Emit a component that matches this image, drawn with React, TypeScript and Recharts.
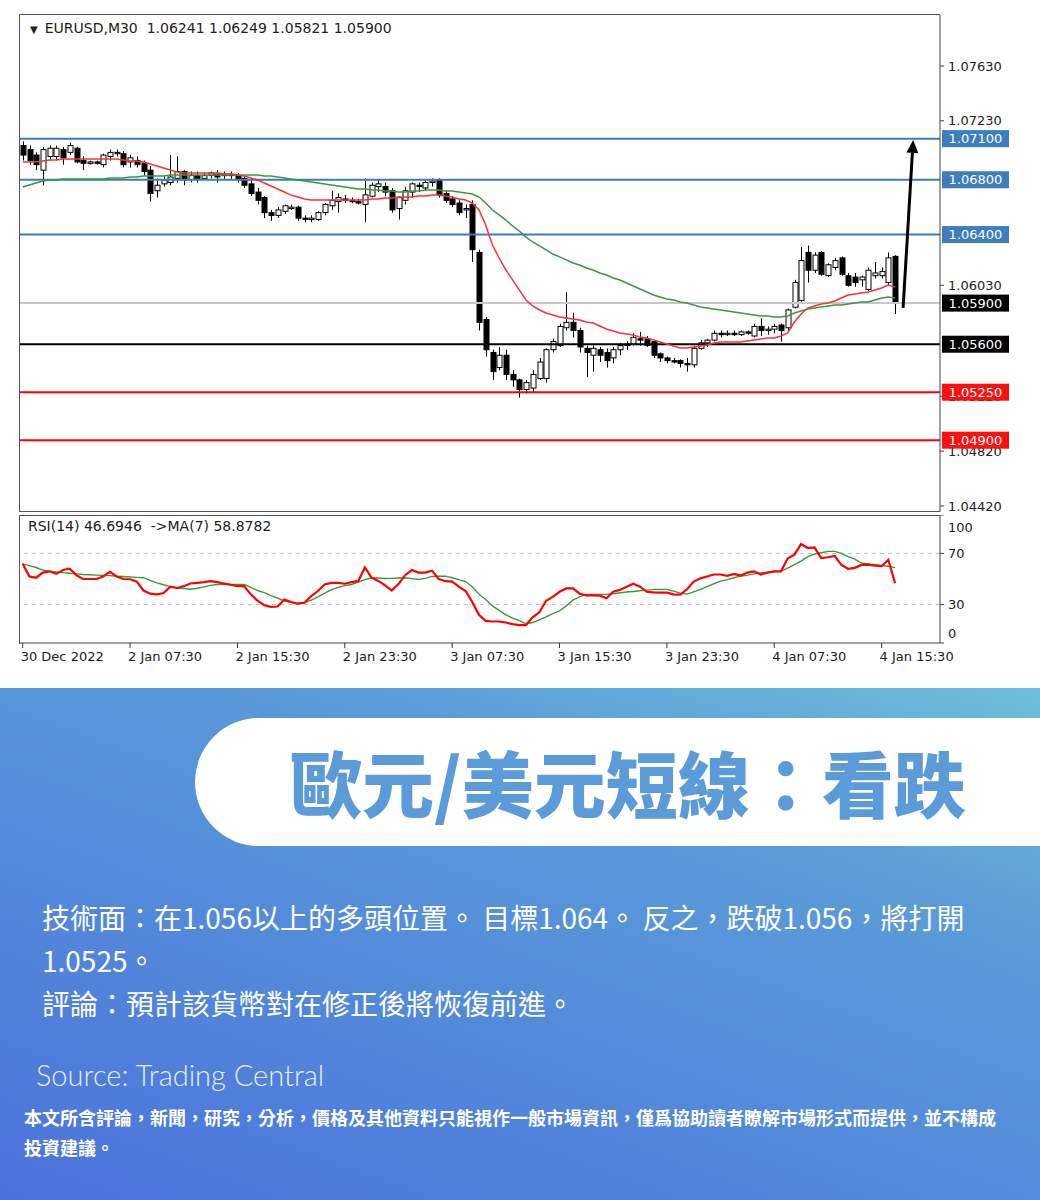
import React from 'react';
import { ComposedChart, Bar, Line, XAxis, YAxis, ReferenceLine } from 'recharts';

// EURUSD M30 candles
const opens = [
  1.0705, 1.0702, 1.0698, 1.0687, 1.0697, 1.0697, 1.0702, 1.0700, 1.0703, 1.0694,
  1.0692, 1.0693, 1.0691, 1.0697, 1.0700, 1.0699, 1.0693, 1.0694, 1.0692, 1.0687,
  1.0672, 1.0677, 1.0678, 1.0681, 1.0686, 1.0680, 1.0683, 1.0681, 1.0683, 1.0684,
  1.0683, 1.0684, 1.0683, 1.0681, 1.0677, 1.0671, 1.0667, 1.0656, 1.0654, 1.0657,
  1.0659, 1.0660, 1.0652, 1.0651, 1.0651, 1.0656, 1.0661, 1.0664, 1.0666, 1.0665,
  1.0664, 1.0662, 1.0668, 1.0675, 1.0675, 1.0672, 1.0659, 1.0665, 1.0671, 1.0676,
  1.0674, 1.0678, 1.0680, 1.0670, 1.0666, 1.0663, 1.0658, 1.0662, 1.0627, 1.0578,
  1.0554, 1.0543, 1.0552, 1.0538, 1.0534, 1.0527, 1.0528, 1.0535, 1.0535, 1.0556,
  1.0559, 1.0572, 1.0576, 1.0570, 1.0557, 1.0552, 1.0556, 1.0554, 1.0550, 1.0556,
  1.0559, 1.0560, 1.0564, 1.0564, 1.0562, 1.0553, 1.0550, 1.0548, 1.0548, 1.0546,
  1.0545, 1.0557, 1.0561, 1.0563, 1.0568, 1.0567, 1.0568, 1.0567, 1.0569, 1.0566,
  1.0573, 1.0570, 1.0571, 1.0574, 1.0572, 1.0587, 1.0592, 1.0627, 1.0614, 1.0627,
  1.0610, 1.0616, 1.0623, 1.0610, 1.0609, 1.0607, 1.0600, 1.0610, 1.0610, 1.0605,
  1.06241,
];
const highs = [
  1.0708, 1.0705, 1.0700, 1.0704, 1.0705, 1.0705, 1.0704, 1.0707, 1.0704, 1.0697,
  1.0694, 1.0694, 1.0699, 1.0702, 1.0702, 1.0701, 1.0698, 1.0697, 1.0694, 1.0690,
  1.0681, 1.0683, 1.0698, 1.0697, 1.0687, 1.0686, 1.0686, 1.0685, 1.0686, 1.0687,
  1.0686, 1.0686, 1.0685, 1.0683, 1.0680, 1.0674, 1.0668, 1.0658, 1.0660, 1.0662,
  1.0662, 1.0661, 1.0654, 1.0654, 1.0657, 1.0663, 1.0672, 1.0670, 1.0669, 1.0667,
  1.0666, 1.0681, 1.0678, 1.0680, 1.0678, 1.0674, 1.0668, 1.0675, 1.0678, 1.0678,
  1.0680, 1.0681, 1.0681, 1.0672, 1.0668, 1.0665, 1.0662, 1.0665, 1.0629, 1.0580,
  1.0556, 1.0558, 1.0556, 1.0541, 1.0535, 1.0534, 1.0541, 1.0550, 1.0557, 1.0564,
  1.0575, 1.0598, 1.0583, 1.0572, 1.0559, 1.0559, 1.0558, 1.0557, 1.0558, 1.0561,
  1.0562, 1.0568, 1.0569, 1.0566, 1.0563, 1.0554, 1.0551, 1.0550, 1.0549, 1.0550,
  1.0559, 1.0563, 1.0564, 1.0570, 1.0570, 1.0570, 1.0570, 1.0570, 1.0570, 1.0575,
  1.0579, 1.0573, 1.0575, 1.0575, 1.0586, 1.0607, 1.0631, 1.0632, 1.0627, 1.0628,
  1.0619, 1.0623, 1.0624, 1.0612, 1.0612, 1.0610, 1.0616, 1.0620, 1.0616, 1.0627,
  1.06249,
];
const lows = [
  1.0694, 1.0691, 1.0687, 1.0676, 1.0694, 1.0694, 1.0691, 1.0698, 1.0692, 1.0687,
  1.0691, 1.0691, 1.0689, 1.0694, 1.0697, 1.0689, 1.0689, 1.0689, 1.0683, 1.0664,
  1.0667, 1.0675, 1.0676, 1.0678, 1.0676, 1.0678, 1.0678, 1.0680, 1.0681, 1.0678,
  1.0680, 1.0680, 1.0678, 1.0674, 1.0668, 1.0662, 1.0652, 1.0650, 1.0652, 1.0655,
  1.0658, 1.0650, 1.0649, 1.0649, 1.0650, 1.0654, 1.0658, 1.0656, 1.0663, 1.0663,
  1.0662, 1.0649, 1.0667, 1.0671, 1.0668, 1.0656, 1.0651, 1.0662, 1.0667, 1.0671,
  1.0672, 1.0675, 1.0667, 1.0663, 1.0660, 1.0654, 1.0652, 1.0620, 1.0570, 1.0551,
  1.0534, 1.0541, 1.0534, 1.0529, 1.0521, 1.0524, 1.0525, 1.0534, 1.0532, 1.0554,
  1.0558, 1.0570, 1.0565, 1.0554, 1.0536, 1.0540, 1.0547, 1.0543, 1.0546, 1.0552,
  1.0556, 1.0559, 1.0559, 1.0558, 1.0550, 1.0547, 1.0546, 1.0546, 1.0543, 1.0540,
  1.0543, 1.0556, 1.0558, 1.0562, 1.0565, 1.0566, 1.0566, 1.0566, 1.0567, 1.0565,
  1.0566, 1.0567, 1.0568, 1.0562, 1.0570, 1.0586, 1.0591, 1.0605, 1.0612, 1.0610,
  1.0609, 1.0614, 1.0610, 1.0602, 1.0602, 1.0602, 1.0598, 1.0608, 1.0608, 1.0603,
  1.05821,
];
const closes = [
  1.0698, 1.0694, 1.0691, 1.0702, 1.0703, 1.0703, 1.0696, 1.0705, 1.0693, 1.0692,
  1.0693, 1.0692, 1.0698, 1.0700, 1.0699, 1.0691, 1.0696, 1.0691, 1.0686, 1.0670,
  1.0676, 1.0680, 1.0682, 1.0686, 1.0680, 1.0683, 1.0681, 1.0683, 1.0685, 1.0682,
  1.0684, 1.0683, 1.0680, 1.0676, 1.0670, 1.0665, 1.0656, 1.0654, 1.0658, 1.0661,
  1.0660, 1.0652, 1.0651, 1.0652, 1.0656, 1.0662, 1.0665, 1.0667, 1.0665, 1.0664,
  1.0663, 1.0669, 1.0676, 1.0677, 1.0671, 1.0658, 1.0667, 1.0672, 1.0677, 1.0675,
  1.0678, 1.0679, 1.0669, 1.0665, 1.0662, 1.0656, 1.0659, 1.0629, 1.0576, 1.0556,
  1.0540, 1.0552, 1.0538, 1.0534, 1.0527, 1.0532, 1.0538, 1.0547, 1.0556, 1.0562,
  1.0573, 1.0576, 1.0570, 1.0558, 1.0554, 1.0557, 1.0552, 1.0548, 1.0556, 1.0559,
  1.0560, 1.0565, 1.0563, 1.0559, 1.0552, 1.0550, 1.0548, 1.0547, 1.0546, 1.0545,
  1.0557, 1.0561, 1.0563, 1.0568, 1.0567, 1.0568, 1.0567, 1.0569, 1.0568, 1.0573,
  1.0570, 1.0571, 1.0573, 1.0570, 1.0585, 1.0605, 1.0621, 1.0614, 1.0625, 1.0611,
  1.0618, 1.0621, 1.0611, 1.0603, 1.0605, 1.0609, 1.0614, 1.0612, 1.0613, 1.0623,
  1.05900,
];

// moving averages drawn on the price panel (red fast, green slow)
const maFast = [
  1.06930, 1.06930, 1.06930, 1.06937, 1.06944, 1.06944, 1.06951, 1.06951, 1.06951, 1.06951,
  1.06951, 1.06951, 1.06951, 1.06951, 1.06951, 1.06944, 1.06937, 1.06937, 1.06930, 1.06915,
  1.06900, 1.06886, 1.06871, 1.06857, 1.06849, 1.06849, 1.06849, 1.06849, 1.06849, 1.06849,
  1.06842, 1.06842, 1.06835, 1.06827, 1.06813, 1.06798, 1.06776, 1.06754, 1.06733, 1.06711,
  1.06688, 1.06674, 1.06660, 1.06652, 1.06652, 1.06652, 1.06652, 1.06652, 1.06652, 1.06652,
  1.06652, 1.06652, 1.06660, 1.06660, 1.06667, 1.06667, 1.06674, 1.06674, 1.06674, 1.06681,
  1.06681, 1.06688, 1.06688, 1.06681, 1.06674, 1.06660, 1.06652, 1.06630, 1.06579, 1.06470,
  1.06324, 1.06229, 1.06142, 1.06069, 1.05996, 1.05923, 1.05879, 1.05850, 1.05828, 1.05813,
  1.05799, 1.05791, 1.05784, 1.05777, 1.05762, 1.05755, 1.05733, 1.05711, 1.05697, 1.05682,
  1.05675, 1.05667, 1.05652, 1.05645, 1.05631, 1.05616, 1.05602, 1.05587, 1.05572, 1.05572,
  1.05580, 1.05587, 1.05594, 1.05609, 1.05616, 1.05616, 1.05616, 1.05616, 1.05624, 1.05631,
  1.05638, 1.05645, 1.05645, 1.05660, 1.05682, 1.05762, 1.05821, 1.05864, 1.05879, 1.05894,
  1.05901, 1.05915, 1.05937, 1.05959, 1.05967, 1.05974, 1.05981, 1.05996, 1.06010, 1.06032,
  1.06018,
];
const maSlow = [
  1.06747, 1.06762, 1.06776, 1.06791, 1.06798, 1.06798, 1.06806, 1.06806, 1.06806, 1.06806,
  1.06806, 1.06806, 1.06806, 1.06813, 1.06813, 1.06813, 1.06820, 1.06820, 1.06827, 1.06827,
  1.06827, 1.06827, 1.06835, 1.06835, 1.06835, 1.06835, 1.06835, 1.06835, 1.06835, 1.06835,
  1.06835, 1.06835, 1.06835, 1.06835, 1.06835, 1.06835, 1.06827, 1.06827, 1.06820, 1.06813,
  1.06806, 1.06798, 1.06791, 1.06784, 1.06776, 1.06769, 1.06762, 1.06754, 1.06747, 1.06740,
  1.06733, 1.06733, 1.06725, 1.06725, 1.06718, 1.06718, 1.06711, 1.06711, 1.06718, 1.06718,
  1.06725, 1.06725, 1.06725, 1.06718, 1.06718, 1.06711, 1.06703, 1.06696, 1.06674, 1.06630,
  1.06579, 1.06543, 1.06506, 1.06463, 1.06426, 1.06382, 1.06346, 1.06317, 1.06288, 1.06258,
  1.06237, 1.06215, 1.06193, 1.06178, 1.06156, 1.06142, 1.06120, 1.06105, 1.06083, 1.06069,
  1.06047, 1.06025, 1.06003, 1.05981, 1.05959, 1.05945, 1.05930, 1.05923, 1.05908, 1.05901,
  1.05886, 1.05872, 1.05864, 1.05857, 1.05850, 1.05843, 1.05835, 1.05828, 1.05821, 1.05813,
  1.05806, 1.05806, 1.05799, 1.05799, 1.05806, 1.05828, 1.05843, 1.05857, 1.05864, 1.05872,
  1.05879, 1.05886, 1.05886, 1.05894, 1.05901, 1.05908, 1.05908, 1.05923, 1.05937, 1.05945,
  1.05937,
];

// RSI(14) and its MA(7)
const rsiValues = [
  62, 52, 51, 55, 56, 54, 57, 58, 53, 50,
  50, 50, 52, 55.6, 52, 50, 49.8, 48, 41, 38.5,
  38, 39, 44, 43, 44.4, 46.5, 47, 47.5, 48.3, 47.5,
  46.5, 45.5, 44.4, 44.4, 38, 33, 29.5, 28.2, 28.5, 34,
  32, 30.7, 31.5, 36.7, 40.6, 45.7, 47, 47, 46.3, 47.5,
  48.3, 59, 51, 48.5, 45, 41, 46, 53, 57, 55,
  55, 56.5, 50, 48.3, 48, 44, 40.6, 32, 22, 17.3,
  16.8, 16.8, 16, 14.7, 14, 14, 20, 24, 33, 36,
  40, 42.6, 42.6, 38.5, 37.2, 37.2, 37, 35, 40, 41.5,
  44, 46.3, 44, 40, 39.5, 39.3, 39.3, 38, 37.8, 42,
  48, 50.5, 52, 53.5, 53.5, 52.5, 54, 52.7, 55, 56,
  53.5, 55, 56, 56, 66, 69, 77.3, 74.2, 74.7, 66.4,
  67, 68, 61, 58, 58.7, 61, 61.2, 60.5, 60, 65,
  46.69,
];
const rsiMa = [
  61.8, 60.5, 59, 57, 56, 55.5, 55, 54.5, 54, 53.5,
  53.3, 53, 52.8, 52.6, 52.2, 51.9, 51.6, 51.3, 51, 49,
  47, 45.5, 44, 43, 42.5, 42, 42.8, 43.8, 45, 45.7,
  45.7, 45.7, 45.7, 45.7, 43.5, 41, 39.3, 37, 35, 32.8,
  31.5, 30.7, 31.5, 33.5, 36, 39, 41.5, 43.5, 44.8, 45.7,
  47.5, 49.5, 51, 50.8, 50.4, 50.5, 50.8, 51, 50.3, 49.6,
  50.5, 52, 52.2, 52.2, 51, 49.5, 48, 44, 38, 34,
  29, 25.5, 22, 19.5, 17.5, 15, 16, 18, 20.5, 23,
  25, 29, 33.5, 36, 38, 38, 38, 38, 38.5, 39.3,
  39.8, 40.2, 40.8, 41.3, 41.9, 41.9, 41.9, 40.5, 39, 38.2,
  40, 41.9, 44, 46.3, 48.3, 49.5, 51, 52.2, 53, 54,
  54.8, 55.2, 55.6, 56, 58.5, 61.2, 64, 67.5, 69.5, 70.5,
  71.6, 71.6, 70, 67.5, 65.5, 62.5, 61.8, 61.2, 60.5, 60,
  58.88,
];

const timeTicks = [0, 16, 32, 48, 64, 80, 96, 112, 128];
const timeLabels = ['30 Dec 2022', '2 Jan 07:30', '2 Jan 15:30', '2 Jan 23:30', '3 Jan 07:30', '3 Jan 15:30', '3 Jan 23:30', '4 Jan 07:30', '4 Jan 15:30'];
// the 1.06830 / 1.06430 / 1.05630 ticks sit fully under the level labels in the picture
const priceTicks = [1.0442, 1.0482, 1.0522, 1.0603, 1.0723, 1.0763];
const rsiTicks = [0, 30, 70, 100];
const rsiBands = [30, 70];

const resistanceLevels = [1.0710, 1.0680, 1.0640];
const lastPrice = 1.0590;
const pivotLevel = 1.0560;
const supportLevels = [1.0525, 1.0490];
const arrowPath = [{ x: 131.2, y: 1.05865 }, { x: 132.7, y: 1.0709 }];

const ohlcHeader = [1.06241, 1.06249, 1.05821, 1.05900];
const rsiLast = 46.6946;
const rsiMaLast = 58.8782;

const data = opens.map((open, i) => ({
  i,
  open,
  high: highs[i],
  low: lows[i],
  close: closes[i],
  maFast: maFast[i],
  maSlow: maSlow[i],
  rsi: rsiValues[i],
  rsiMa: rsiMa[i],
}));

const chartFont = '"DejaVu Sans", Verdana, sans-serif';
const cjkFont = '"Noto Sans CJK TC", "Noto Sans CJK SC", sans-serif';
const xDomain: [number, number] = [-0.4, 136.7];
const yDomain: [number, number] = [1.04376, 1.08002];

function Candle(props: any) {
  const { x, y, width, height, payload } = props;
  if (!payload) return null;
  const top = Math.min(y, y + height);
  const h = Math.abs(height);
  const { open, close, high, low } = payload;
  const span = high - low || 1;
  const toY = (v: number) => top + ((high - v) / span) * h;
  const cx = Math.round(x + width / 2) + 0.5;
  const up = close >= open;
  const bTop = toY(Math.max(open, close));
  const bBot = toY(Math.min(open, close));
  return (
    <g>
      <line x1={cx} x2={cx} y1={top} y2={top + h} stroke="#000" strokeWidth={1} />
      <rect x={cx - 2.5} y={bTop} width={5} height={Math.max(bBot - bTop, 1)} fill={up ? '#fff' : '#000'} stroke="#000" strokeWidth={1} />
    </g>
  );
}

const levelLabel = (value: number, bg: string) => (props: any) => {
  const vb = props.viewBox || {};
  const x = (vb.x || 0) + (vb.width || 0) + 2;
  const y = vb.y || 0;
  return (
    <g>
      <rect x={x} y={y - 8.5} width={67} height={17} fill={bg} />
      <text x={x + 33.5} y={y + 4.5} textAnchor="middle" fill="#fff" fontSize={13} fontFamily={chartFont}>
        {value.toFixed(5)}
      </text>
    </g>
  );
};

function Arrow(props: any) {
  const { x1, y1, x2, y2 } = props;
  if (x1 == null) return null;
  const ang = Math.atan2(y2 - y1, x2 - x1);
  const len = 13;
  const w = 6;
  const bx = x2 - len * Math.cos(ang);
  const by = y2 - len * Math.sin(ang);
  const px = -Math.sin(ang) * w;
  const py = Math.cos(ang) * w;
  return (
    <g>
      <line x1={x1} y1={y1} x2={bx} y2={by} stroke="#000" strokeWidth={3} />
      <polygon points={`${x2},${y2} ${bx + px},${by + py} ${bx - px},${by - py}`} fill="#000" />
    </g>
  );
}

function RsiTick(props: any) {
  const { x, y, payload } = props;
  const v = payload.value;
  const dy = v === 100 ? 3 : v === 0 ? -10 : 0;
  return (
    <text x={x} y={y + dy} dy={4.5} fill="#222" fontSize={13} fontFamily={chartFont} textAnchor="start">
      {v}
    </text>
  );
}

function TimeTick(props: any) {
  const { x, y, payload } = props;
  const idx = timeTicks.indexOf(payload.value);
  return (
    <g>
      <line x1={x} x2={x} y1={y - 8} y2={y - 3} stroke="#333" />
      <text x={x - 2} y={y + 10} fill="#222" fontSize={13} fontFamily={chartFont} textAnchor="start">
        {timeLabels[idx]}
      </text>
    </g>
  );
}

function PriceChart() {
  return (
    <ComposedChart width={1040} height={515} data={data} margin={{ top: 15, right: 0, bottom: 3, left: 20 }}>
      <XAxis dataKey="i" type="number" domain={xDomain} hide allowDataOverflow />
      <YAxis
        orientation="right"
        width={100}
        domain={yDomain}
        ticks={priceTicks}
        allowDataOverflow
        tickFormatter={(v: number) => v.toFixed(5)}
        tick={{ fill: '#222', fontSize: 13, fontFamily: chartFont }}
        tickSize={4}
        tickMargin={4}
        axisLine={{ stroke: '#444' }}
        tickLine={{ stroke: '#444' }}
      />
      <ReferenceLine y={lastPrice} stroke="#c8c8c8" strokeWidth={2} />
      {resistanceLevels.map((v) => (
        <ReferenceLine key={v} y={v} stroke="#3b7cbd" strokeWidth={2} />
      ))}
      <ReferenceLine y={pivotLevel} stroke="#000" strokeWidth={2} />
      {supportLevels.map((v) => (
        <ReferenceLine key={v} y={v} stroke="#ff0000" strokeWidth={2} />
      ))}
      <Line dataKey="maSlow" stroke="#3a9a3a" strokeWidth={1.5} dot={false} isAnimationActive={false} />
      <Line dataKey="maFast" stroke="#ff3030" strokeWidth={1.5} dot={false} isAnimationActive={false} />
      <Bar dataKey={(d: any) => [d.low, d.high]} barSize={5} shape={<Candle />} isAnimationActive={false} />
      <ReferenceLine segment={arrowPath} shape={<Arrow />} ifOverflow="visible" />
    </ComposedChart>
  );
}

// second layer on the same scales so the level tags sit above the axis text
function LevelTags() {
  return (
    <ComposedChart width={1040} height={515} data={data} margin={{ top: 15, right: 100, bottom: 3, left: 20 }}>
      <XAxis dataKey="i" type="number" domain={xDomain} hide allowDataOverflow />
      <YAxis domain={yDomain} hide allowDataOverflow />
      {resistanceLevels.map((v) => (
        <ReferenceLine key={v} y={v} stroke="none" label={levelLabel(v, '#3e7ebf')} />
      ))}
      <ReferenceLine y={lastPrice} stroke="none" label={levelLabel(lastPrice, '#000')} />
      <ReferenceLine y={pivotLevel} stroke="none" label={levelLabel(pivotLevel, '#000')} />
      {supportLevels.map((v) => (
        <ReferenceLine key={v} y={v} stroke="none" label={levelLabel(v, '#ff1010')} />
      ))}
    </ComposedChart>
  );
}

function RsiChart() {
  return (
    <ComposedChart width={1040} height={175} data={data} margin={{ top: 0, right: 0, bottom: 0, left: 20 }}>
      <XAxis
        dataKey="i"
        type="number"
        domain={xDomain}
        ticks={timeTicks}
        allowDataOverflow
        height={47}
        axisLine={{ stroke: '#444' }}
        tickLine={false}
        tick={<TimeTick />}
        interval={0}
      />
      <YAxis
        orientation="right"
        width={100}
        domain={[0, 100]}
        ticks={rsiTicks}
        allowDataOverflow
        tick={<RsiTick />}
        tickSize={4}
        tickMargin={4}
        axisLine={{ stroke: '#444' }}
        tickLine={{ stroke: '#444' }}
      />
      {rsiBands.map((v) => (
        <ReferenceLine key={v} y={v} stroke="#bdbdbd" strokeDasharray="4 4" />
      ))}
      <Line dataKey="rsiMa" stroke="#3a9a3a" strokeWidth={1.4} dot={false} isAnimationActive={false} />
      <Line dataKey="rsi" stroke="#ff0000" strokeWidth={2.2} dot={false} isAnimationActive={false} />
    </ComposedChart>
  );
}

export default function App() {
  const header = `EURUSD,M30  ${ohlcHeader.map((v) => v.toFixed(5)).join(' ')}`;
  const rsiHeader = `RSI(14) ${rsiLast.toFixed(4)}  ->MA(7) ${rsiMaLast.toFixed(4)}`;
  return (
    <div style={{ position: 'absolute', left: 0, top: 0, width: 1040, height: 1200, background: '#fff', overflow: 'hidden' }}>
      <div style={{ position: 'absolute', left: 19, top: 14, width: 921, height: 498, border: '1px solid #555', borderRight: 'none', boxSizing: 'border-box' }} />
      <div style={{ position: 'absolute', left: 19, top: 515, width: 921, height: 129, borderLeft: '1px solid #555', borderTop: '1px solid #555', boxSizing: 'border-box' }} />
      <div style={{ position: 'absolute', left: 0, top: 0 }}>
        <PriceChart />
      </div>
      <div style={{ position: 'absolute', left: 0, top: 0, pointerEvents: 'none' }}>
        <LevelTags />
      </div>
      <div style={{ position: 'absolute', left: 0, top: 515 }}>
        <RsiChart />
      </div>
      <div style={{ position: 'absolute', left: 30, top: 20, fontFamily: chartFont, fontSize: 14, color: '#222', whiteSpace: 'pre' }}>
        <span style={{ fontSize: 10, marginRight: 7 }}>▼</span>
        {header}
      </div>
      <div style={{ position: 'absolute', left: 28, top: 518, fontFamily: chartFont, fontSize: 14, color: '#222', whiteSpace: 'pre' }}>
        {rsiHeader}
      </div>

      <div style={{ position: 'absolute', left: 0, top: 688, width: 1040, height: 512, background: 'linear-gradient(200deg, #6ebddb 0%, #5b9cd8 28%, #5289db 62%, #4b72dc 100%)' }}>
        <div style={{ position: 'absolute', left: 195, top: 30, width: 900, height: 128, background: '#fff', borderRadius: '64px 0 0 64px' }} />
        <div style={{ position: 'absolute', left: 290, top: 48, height: 90, lineHeight: '90px', fontFamily: cjkFont, fontWeight: 900, fontSize: 72, color: '#5b9bd9', whiteSpace: 'nowrap' }}>
          歐元/美元短線：看跌
        </div>
        <div style={{ position: 'absolute', left: 42, top: 208, fontFamily: cjkFont, fontSize: 28, lineHeight: '43px', color: '#fff', whiteSpace: 'nowrap' }}>
          <div>技術面：在1.056以上的多頭位置。 目標1.064。 反之，跌破1.056，將打開</div>
          <div>1.0525。</div>
          <div>評論：預計該貨幣對在修正後將恢復前進。</div>
        </div>
        <div style={{ position: 'absolute', left: 36, top: 369, fontFamily: 'Lato, "Open Sans", sans-serif', fontWeight: 300, fontSize: 29, color: '#e8eef8', whiteSpace: 'nowrap' }}>
          Source: Trading Central
        </div>
        <div style={{ position: 'absolute', left: 24, top: 414, width: 1000, fontFamily: cjkFont, fontWeight: 700, fontSize: 18, lineHeight: '30px', color: '#fff' }}>
          <div style={{ whiteSpace: 'nowrap' }}>本文所含評論，新聞，研究，分析，價格及其他資料只能視作一般市場資訊，僅爲協助讀者瞭解市場形式而提供，並不構成</div>
          <div>投資建議。</div>
        </div>
      </div>
    </div>
  );
}
